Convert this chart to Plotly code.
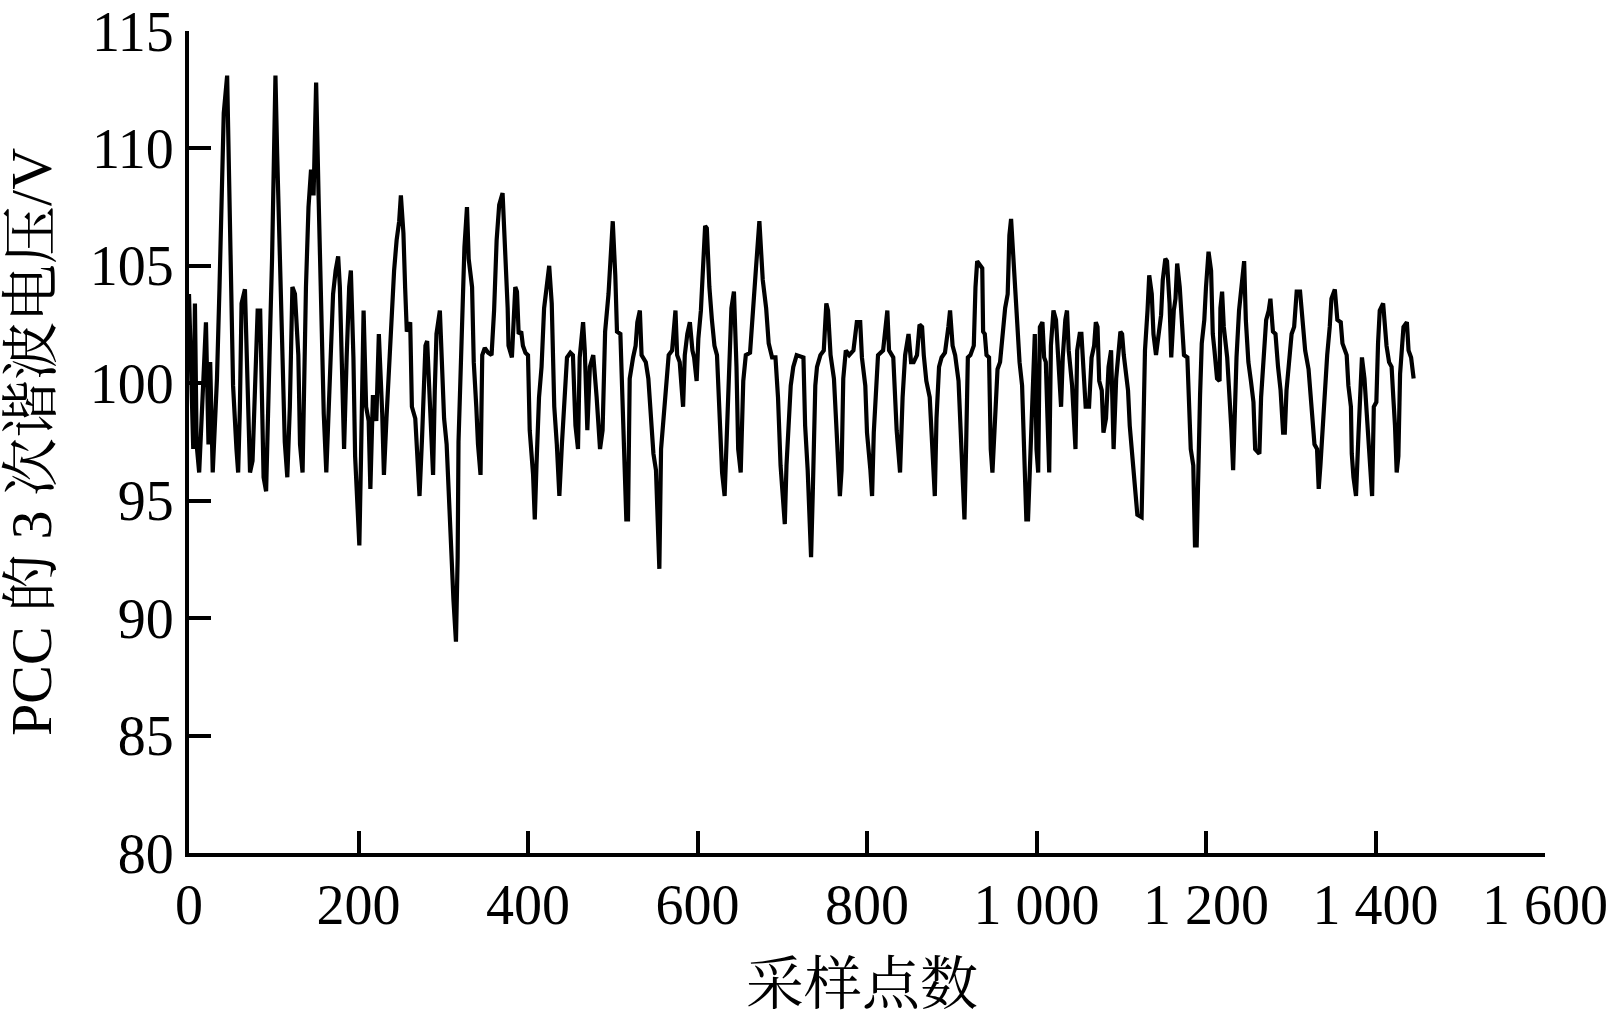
"""PCC 3rd-harmonic voltage vs. sample number, redrawn with Plotly."""
import plotly.graph_objects as go

# sample number / voltage (V)
x_0_225 = [0, 5, 7, 9, 12, 18, 20, 23, 25, 28,
           30, 33, 36, 39, 41, 45, 48, 50, 52, 56,
           58, 60, 62, 66, 68, 70, 72, 75, 78, 81,
           84, 86, 88, 91, 94, 96, 98, 100, 102, 104,
           107, 109, 113, 116, 119, 122, 125, 129, 131, 134,
           136, 138, 141, 144, 147, 150, 153, 155, 157, 159,
           162, 164, 168, 170, 173, 176, 178, 181, 183, 186,
           189, 191, 194, 196, 198, 201, 203, 206, 209, 212,
           214, 217, 221, 224]
v_0_225 = [103.8, 97.2, 103.4, 97.4, 96.2, 101.7, 102.6, 97.4, 100.9, 96.2,
           97.9, 100.2, 104.1, 109.3, 111.5, 113.1, 106.6, 103.6, 99.9, 97.2,
           96.2, 98.9, 103.4, 104.0, 101.7, 99.5, 96.2, 96.7, 99.7, 103.1,
           103.1, 99.7, 96.0, 95.4, 99.0, 102.6, 105.3, 110.0, 113.1, 109.8,
           105.4, 102.4, 97.5, 96.0, 99.0, 104.1, 103.8, 101.2, 97.4, 96.2,
           101.2, 104.1, 107.5, 109.1, 108.0, 112.8, 107.8, 104.6, 102.4, 98.7,
           96.2, 98.4, 102.1, 103.8, 104.8, 105.4, 104.1, 99.7, 97.2, 101.1,
           104.1, 104.8, 101.1, 96.9, 95.0, 93.1, 96.9, 103.1, 99.0, 98.4,
           95.5, 99.5, 98.4, 102.1]

x_225_450 = [228, 230, 233, 236, 239, 242, 245, 248, 250, 253,
             255, 257, 261, 263, 267, 269, 272, 275, 277, 279,
             281, 284, 286, 288, 290, 292, 296, 298, 301, 304,
             307, 309, 312, 315, 317, 318, 320, 322, 325, 328,
             330, 334, 336, 339, 341, 344, 346, 349, 353, 357,
             360, 363, 366, 370, 373, 376, 377, 381, 385, 387,
             389, 392, 394, 397, 400, 402, 406, 408, 410, 413,
             416, 419, 422, 425, 428, 431, 434, 437, 440, 443,
             446, 450]
v_225_450 = [98.7, 96.1, 98.5, 100.7, 103.2, 104.8, 106.1, 106.9, 108.0, 106.4,
             104.1, 102.2, 102.6, 99.0, 98.5, 96.9, 95.2, 97.7, 99.5, 101.6,
             101.8, 99.4, 98.0, 96.1, 99.7, 102.1, 103.1, 100.9, 98.5, 97.4,
             94.8, 93.1, 90.8, 89.0, 92.6, 97.5, 100.2, 103.2, 105.8, 107.5,
             105.3, 104.1, 100.9, 99.0, 97.4, 96.1, 101.2, 101.5, 101.3, 101.2,
             103.1, 106.1, 107.6, 108.1, 105.8, 103.2, 101.6, 101.1, 104.1, 103.9,
             102.1, 102.2, 101.6, 101.3, 101.2, 98.0, 96.1, 94.2, 96.5, 99.4,
             100.7, 103.2, 104.1, 105.0, 103.4, 99.0, 97.4, 95.2, 97.4, 99.4,
             101.1, 101.3]

x_450_665 = [453, 456, 459, 461, 465, 467, 470, 473, 477, 481,
             485, 488, 491, 495, 497, 500, 503, 505, 509, 511,
             514, 516, 518, 520, 524, 527, 529, 532, 534, 539,
             542, 545, 548, 551, 553, 555, 557, 560, 563, 566,
             570, 572, 574, 576, 579, 583, 585, 588, 591, 594,
             596, 599, 601, 604, 606, 609, 611, 614, 617, 620,
             623, 626, 629, 632, 635, 638, 640, 643, 646, 648,
             651, 654, 657, 662]
v_450_665 = [101.2, 98.2, 97.2, 101.1, 102.6, 101.4, 98.0, 100.7, 101.2, 99.4,
             97.2, 98.0, 102.2, 103.8, 105.3, 106.9, 104.6, 102.2, 102.1, 99.5,
             96.5, 94.2, 94.2, 100.2, 101.1, 101.6, 102.6, 103.1, 101.2, 100.9,
             100.2, 98.2, 97.0, 96.3, 93.7, 92.1, 97.2, 98.7, 99.9, 101.2,
             101.4, 102.4, 103.1, 101.2, 100.9, 99.0, 101.2, 102.1, 102.6, 101.4,
             101.1, 100.1, 101.9, 103.1, 104.3, 106.7, 106.6, 104.1, 102.7, 101.6,
             101.2, 98.5, 96.2, 95.2, 98.4, 100.7, 103.2, 103.9, 100.7, 97.2,
             96.2, 100.1, 101.2, 101.3]

x_665_900 = [666, 669, 673, 677, 681, 684, 688, 692, 695, 698,
             701, 703, 705, 707, 710, 713, 717, 725, 727, 730,
             733, 734, 736, 739, 741, 745, 749, 752, 754, 757,
             761, 764, 768, 770, 772, 775, 779, 784, 788, 792,
             794, 798, 800, 804, 806, 808, 811, 813, 819, 822,
             824, 826, 831, 835, 839, 842, 845, 849, 852, 855,
             859, 862, 865, 867, 870, 874, 876, 878, 880, 882,
             885, 888, 892, 896, 898]
v_665_900 = [103.6, 104.9, 106.9, 104.4, 103.2, 101.7, 101.1, 101.1, 99.4, 96.5,
             95.0, 94.0, 96.5, 98.2, 99.9, 100.7, 101.2, 101.1, 98.2, 96.3,
             94.0, 92.6, 95.3, 99.9, 100.7, 101.2, 101.4, 103.4, 103.1, 101.2,
             100.2, 97.9, 95.2, 96.3, 100.2, 101.4, 101.2, 101.4, 102.6, 102.6,
             101.1, 99.9, 97.9, 96.3, 95.2, 97.9, 99.9, 101.2, 101.4, 102.7,
             103.1, 101.4, 101.1, 98.0, 96.2, 99.4, 101.2, 102.1, 100.9, 100.9,
             101.2, 102.5, 102.4, 101.2, 100.1, 99.4, 97.7, 96.2, 95.2, 98.5,
             100.7, 101.1, 101.3, 102.4, 103.1]

x_900_1110 = [901, 904, 908, 911, 913, 915, 917, 919, 922, 926,
              928, 930, 936, 937, 939, 941, 944, 946, 948, 951,
              954, 957, 960, 963, 966, 968, 970, 973, 975, 977,
              980, 983, 985, 988, 990, 993, 996, 998, 1000, 1002,
              1004, 1007, 1009, 1011, 1013, 1015, 1017, 1020, 1023, 1026,
              1029, 1031, 1034, 1036, 1038, 1042, 1046, 1048, 1051, 1053,
              1055, 1058, 1062, 1065, 1068, 1070, 1072, 1074, 1077, 1079,
              1082, 1085, 1088, 1089, 1091, 1094, 1097, 1099, 1101, 1103,
              1108, 1110]
v_900_1110 = [101.6, 101.2, 100.1, 97.4, 95.7, 94.2, 97.4, 101.1, 101.2, 101.6,
              104.1, 105.2, 104.9, 102.2, 102.1, 101.2, 101.1, 97.2, 96.2, 98.4,
              100.6, 100.9, 102.1, 103.2, 103.8, 106.3, 107.0, 105.1, 103.8, 102.4,
              100.9, 99.9, 97.0, 94.2, 94.2, 97.0, 99.7, 102.1, 97.2, 96.2,
              102.4, 102.6, 101.1, 100.9, 98.5, 96.2, 101.6, 103.1, 102.7, 100.4,
              99.0, 101.1, 102.7, 103.1, 101.4, 99.9, 97.2, 101.4, 102.1, 102.1,
              100.7, 99.0, 99.0, 101.1, 101.6, 102.6, 102.4, 100.1, 99.7, 97.9,
              98.5, 100.7, 101.4, 99.5, 97.2, 100.2, 101.4, 102.2, 102.1, 101.2,
              99.7, 98.2]

x_1110_1311 = [1114, 1116, 1119, 1124, 1126, 1128, 1131, 1133, 1136, 1138,
               1141, 1144, 1147, 1149, 1152, 1154, 1157, 1159, 1162, 1164,
               1166, 1169, 1171, 1174, 1178, 1180, 1182, 1185, 1187, 1189,
               1191, 1193, 1195, 1198, 1200, 1203, 1206, 1208, 1210, 1213,
               1216, 1217, 1219, 1221, 1225, 1228, 1230, 1232, 1234, 1236,
               1239, 1242, 1245, 1247, 1250, 1253, 1256, 1258, 1263, 1265,
               1268, 1271, 1274, 1276, 1279, 1282, 1285, 1288, 1291, 1293,
               1295, 1298, 1301, 1304, 1307, 1311]
v_1110_1311 = [96.5, 95.5, 94.4, 94.3, 99.4, 101.4, 103.1, 104.6, 103.8, 102.1,
               101.2, 102.1, 102.9, 104.4, 105.3, 105.2, 103.4, 101.1, 103.1, 103.6,
               105.1, 104.1, 102.6, 101.2, 101.1, 99.0, 97.2, 96.5, 93.1, 93.1,
               97.4, 99.5, 101.7, 102.7, 104.1, 105.6, 104.8, 102.1, 101.4, 100.2,
               100.1, 103.2, 103.9, 102.4, 101.1, 99.4, 98.0, 96.3, 99.4, 101.1,
               103.1, 104.4, 105.2, 102.7, 100.9, 100.1, 99.2, 97.2, 97.0, 99.4,
               101.2, 102.7, 103.1, 103.6, 102.2, 102.1, 100.7, 99.7, 97.9, 97.9,
               99.7, 101.1, 102.1, 102.4, 103.9, 103.9]

x_1311_1445 = [1314, 1317, 1321, 1325, 1328, 1331, 1333, 1335, 1338, 1341,
               1343, 1346, 1348, 1352, 1355, 1359, 1361, 1366, 1368, 1371,
               1372, 1374, 1377, 1380, 1382, 1384, 1387, 1389, 1391, 1394,
               1396, 1398, 1401, 1403, 1405, 1409, 1411, 1413, 1416, 1419,
               1421, 1423, 1425, 1427, 1429, 1431, 1433, 1437, 1439, 1442,
               1445]
v_1311_1445 = [102.6, 101.4, 100.6, 99.0, 97.4, 97.2, 95.5, 96.5, 98.5, 99.9,
               101.2, 102.4, 103.6, 104.0, 102.7, 102.6, 101.7, 101.2, 99.9, 99.0,
               97.0, 96.0, 95.2, 97.9, 99.5, 101.1, 100.2, 99.0, 97.7, 95.7,
               95.2, 99.0, 99.2, 101.7, 103.1, 103.4, 102.4, 101.6, 100.9, 100.7,
               99.4, 98.2, 96.2, 96.9, 100.4, 101.6, 102.4, 102.6, 101.4, 101.1,
               100.2]

x_ticks = [0, 200, 400, 600, 800, 1000, 1200, 1400, 1600]
x_tick_text = ["0", "200", "400", "600", "800", "1 000", "1 200", "1 400", "1 600"]
y_ticks = [80, 85, 90, 95, 100, 105, 110, 115]

bands = [(x_0_225, v_0_225), (x_225_450, v_225_450), (x_450_665, v_450_665),
         (x_665_900, v_665_900), (x_900_1110, v_900_1110),
         (x_1110_1311, v_1110_1311), (x_1311_1445, v_1311_1445)]
sample_no, voltage = [], []
for bx, bv in bands:
    assert len(bx) == len(bv)
    sample_no += bx
    voltage += bv

SERIF = "Liberation Serif, Times New Roman, serif"
CJK = "Liberation Serif, Noto Serif CJK SC, Noto Sans CJK SC, serif"

fig = go.Figure(go.Scatter(
    x=sample_no, y=voltage, mode="lines",
    line=dict(color="black", width=4.2),
    showlegend=False,
))

axis_common = dict(
    showline=True, linecolor="black", linewidth=4,
    ticks="inside", ticklen=22, tickwidth=4, tickcolor="black",
    showgrid=False, zeroline=False, automargin=False,
    tickfont=dict(family=SERIF, size=56, color="black"),
)
fig.update_xaxes(range=[0, 1600], tickvals=x_ticks, ticktext=x_tick_text, **axis_common)
fig.update_yaxes(range=[80, 115], tickvals=y_ticks, **axis_common)

fig.update_layout(
    width=1617, height=1016,
    margin=dict(l=189, r=72, t=31, b=163),
    paper_bgcolor="white", plot_bgcolor="white",
    annotations=[
        dict(text="PCC 的 3 次谐波电压/V", textangle=-90,
             xref="paper", yref="paper", x=-0.1165, y=0.5,
             xanchor="center", yanchor="middle",
             showarrow=False, font=dict(family=CJK, size=58, color="black")),
        dict(text="采样点数",
             xref="paper", yref="paper", x=0.4963, y=-0.1594,
             xanchor="center", yanchor="middle",
             showarrow=False, font=dict(family=CJK, size=58, color="black")),
    ],
)

# drop the default body margin so the figure fills the window exactly
fig.write_html("out.html", config={"displayModeBar": False},
               post_script="document.body.style.margin = '0';")
